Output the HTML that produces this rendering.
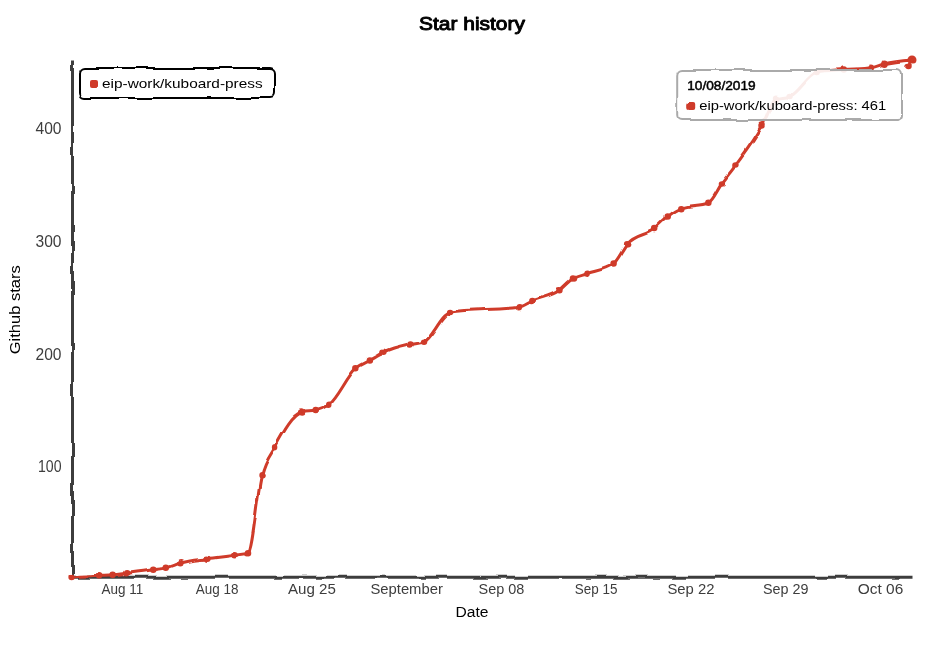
<!DOCTYPE html>
<html><head><meta charset="utf-8"><title>Star history</title>
<style>
html,body{margin:0;padding:0;background:#fff;overflow:hidden;color:#3d3d3d}
body{width:935px;height:647px;position:relative}
svg.xk{position:absolute;left:2.0px;top:0;stroke-width:3;font-family:"Liberation Sans", sans-serif;background:white;overflow:hidden}
.tick text{font-family:"Liberation Sans", sans-serif;font-size:15.3px;fill:currentColor;stroke:none}
.tick text.yt{font-size:16.3px}
.domain{stroke:currentColor;fill:none}
.dots circle{stroke:#cf3a29;fill:#cf3a29}
.lbl{font-size:15.4px;fill:#000}
.it{font-size:13.4px;fill:#000}
.b{stroke:#000;stroke-width:.5px;stroke-linejoin:round}
</style></head><body>
<svg class="xk" width="940" height="626.667">
<g transform="translate(70,60)"><g pointer-events="all">
<g transform="translate(0,516.67)" fill="none" font-size="10" text-anchor="middle"><path class="domain" d="M0.5,0.5H840.5" filter="url(#xkcdify)"/><g class="tick" transform="translate(50.3,0)"><text y="6.7" dy="0.71em" textLength="41.68" lengthAdjust="spacingAndGlyphs">Aug 11</text></g><g class="tick" transform="translate(145.08,0)"><text y="6.7" dy="0.71em" textLength="42.66" lengthAdjust="spacingAndGlyphs">Aug 18</text></g><g class="tick" transform="translate(239.86,0)"><text y="6.7" dy="0.71em" textLength="47.9" lengthAdjust="spacingAndGlyphs">Aug 25</text></g><g class="tick" transform="translate(334.64,0)"><text y="6.7" dy="0.71em" textLength="72.5" lengthAdjust="spacingAndGlyphs">September</text></g><g class="tick" transform="translate(429.42,0)"><text y="6.7" dy="0.71em" textLength="45.8" lengthAdjust="spacingAndGlyphs">Sep 08</text></g><g class="tick" transform="translate(524.2,0)"><text y="6.7" dy="0.71em" textLength="42.66" lengthAdjust="spacingAndGlyphs">Sep 15</text></g><g class="tick" transform="translate(618.98,0)"><text y="6.7" dy="0.71em" textLength="47" lengthAdjust="spacingAndGlyphs">Sep 22</text></g><g class="tick" transform="translate(713.76,0)"><text y="6.7" dy="0.71em" textLength="45.5" lengthAdjust="spacingAndGlyphs">Sep 29</text></g><g class="tick" transform="translate(808.54,0)"><text y="6.7" dy="0.71em" textLength="45.5" lengthAdjust="spacingAndGlyphs">Oct 06</text></g></g>
<g fill="none" font-size="10" text-anchor="end"><path class="domain" d="M0.5,517.17V0.5" filter="url(#xkcdify)"/><g class="tick" transform="translate(0,406.7)"><line x2="-1" stroke="currentColor"/><text class="yt" x="-10.5" dy="0.32em" textLength="23.5" lengthAdjust="spacingAndGlyphs">100</text></g><g class="tick" transform="translate(0,294.8)"><line x2="-1" stroke="currentColor"/><text class="yt" x="-10.5" dy="0.32em" textLength="26" lengthAdjust="spacingAndGlyphs">200</text></g><g class="tick" transform="translate(0,181.8)"><line x2="-1" stroke="currentColor"/><text class="yt" x="-10.5" dy="0.32em" textLength="26" lengthAdjust="spacingAndGlyphs">300</text></g><g class="tick" transform="translate(0,68.9)"><line x2="-1" stroke="currentColor"/><text class="yt" x="-10.5" dy="0.32em" textLength="26" lengthAdjust="spacingAndGlyphs">400</text></g></g>
<path class="xkcd-chart-xyline" d="M-0.4,516.97C8.76,516.38,17.92,515.8,27.08,515.37C31.59,515.15,36.11,515.16,40.62,514.8C45.13,514.45,49.65,513.78,54.16,513.23C63.19,512.14,72.21,510.91,81.24,509.7C85.75,509.09,90.26,508.94,94.78,507.85C99.29,506.77,103.8,504.47,108.32,503.18C117.34,500.61,126.37,499.96,135.4,498.65C144.42,497.33,153.45,496.61,162.48,495.29C166.99,494.63,171.5,494.58,176.02,493.16C180.53,491.73,185.04,433.89,189.56,416.24C194.07,398.6,198.58,395.64,203.09,387.27C212.12,370.52,221.15,354.41,230.17,352.46C234.69,351.49,239.2,351.98,243.71,351.01C248.23,350.04,252.74,348.11,257.25,344.68C266.28,337.81,275.31,315.66,284.33,308.2C288.85,304.47,293.36,303.11,297.87,300.55C302.39,297.98,306.9,295.01,311.41,292.83C320.44,288.48,329.46,286.65,338.49,284.53C343,283.48,347.52,283.64,352.03,281.84C361.06,278.25,370.08,253.25,379.11,251.99C401.68,248.82,424.24,250.4,446.81,247.24C451.32,246.61,455.83,243.03,460.35,241.05C469.37,237.11,478.4,236.73,487.43,230.28C491.94,227.05,496.45,221.22,500.97,218.46C505.48,215.7,509.99,215.34,514.51,213.73C523.53,210.5,532.56,210.36,541.59,203.62C546.1,200.25,550.61,189.21,555.13,184.14C564.15,173.99,573.18,176.09,582.21,168.91C586.72,165.32,591.23,160.02,595.74,156.57C600.26,153.11,604.77,150,609.28,148.2C618.31,144.6,627.34,146.4,636.36,142.8C640.88,141,645.39,129.7,649.9,123.5C654.42,117.3,658.93,111.82,663.44,105.61C672.47,93.2,681.5,81.79,690.52,65.49C695.04,57.34,699.55,40.72,704.06,38.85C708.58,36.97,713.09,37.91,717.6,36.03C726.63,32.28,735.65,13.59,744.68,11.98C753.71,10.38,762.73,10.26,771.76,9.57C780.79,8.88,789.81,9,798.84,7.86C803.35,7.29,807.87,4.93,812.38,3.82C821.59,1.56,830.79,0.78,840,0L835.5,7.1" fill="none" stroke="#cf3a29" filter="url(#xkcdify)"/>
<g class="dots" filter="url(#xkcdify)"><circle r="1.75" cx="-0.4" cy="516.97"/><circle r="1.75" cx="27.08" cy="515.37"/><circle r="1.75" cx="40.62" cy="514.8"/><circle r="1.75" cx="54.16" cy="513.23"/><circle r="1.75" cx="81.24" cy="509.7"/><circle r="1.75" cx="94.78" cy="507.85"/><circle r="1.75" cx="108.32" cy="503.18"/><circle r="1.75" cx="135.4" cy="498.65"/><circle r="1.75" cx="162.48" cy="495.29"/><circle r="1.75" cx="176.02" cy="493.16"/><circle r="1.75" cx="189.56" cy="416.24"/><circle r="1.75" cx="203.09" cy="387.27"/><circle r="1.75" cx="230.17" cy="352.46"/><circle r="1.75" cx="243.71" cy="351.01"/><circle r="1.75" cx="257.25" cy="344.68"/><circle r="1.75" cx="284.33" cy="308.2"/><circle r="1.75" cx="297.87" cy="300.55"/><circle r="1.75" cx="311.41" cy="292.83"/><circle r="1.75" cx="338.49" cy="284.53"/><circle r="1.75" cx="352.03" cy="281.84"/><circle r="1.75" cx="379.11" cy="251.99"/><circle r="1.75" cx="446.81" cy="247.24"/><circle r="1.75" cx="460.35" cy="241.05"/><circle r="1.75" cx="487.43" cy="230.28"/><circle r="1.75" cx="500.97" cy="218.46"/><circle r="1.75" cx="514.51" cy="213.73"/><circle r="1.75" cx="541.59" cy="203.62"/><circle r="1.75" cx="555.13" cy="184.14"/><circle r="1.75" cx="582.21" cy="168.91"/><circle r="1.75" cx="595.74" cy="156.57"/><circle r="1.75" cx="609.28" cy="148.2"/><circle r="1.75" cx="636.36" cy="142.8"/><circle r="1.75" cx="649.9" cy="123.5"/><circle r="1.75" cx="663.44" cy="105.61"/><circle r="1.75" cx="690.52" cy="65.49"/><circle r="1.75" cx="704.06" cy="38.85"/><circle r="1.75" cx="717.6" cy="36.03"/><circle r="1.75" cx="744.68" cy="11.98"/><circle r="1.75" cx="771.76" cy="9.57"/><circle r="1.75" cx="798.84" cy="7.86"/><circle r="1.75" cx="812.38" cy="3.82"/><circle r="3" cx="840" cy="0"/><circle r="1.75" cx="835.5" cy="7.1"/></g>
<svg x="3" y="3">
<rect style="fill:white" fill-opacity="0.85" stroke="black" stroke-width="2" rx="5" ry="5" filter="url(#xkcdify)" width="195" height="30" x="5" y="5"/>
<rect style="fill:#cf3a29" width="8" height="8" rx="2" ry="2" filter="url(#xkcdify)" x="15" y="17"/>
<text class="it" x="27" y="24.5" textLength="160.6" lengthAdjust="spacingAndGlyphs">eip-work/kuboard-press</text>
</svg>
</g></g>
<filter id="xkcdify" filterUnits="userSpaceOnUse" x="-5" y="-5" width="100%" height="100%"><feTurbulence type="fractalNoise" baseFrequency="0.05" result="noise"/><feDisplacementMap scale="5" xChannelSelector="R" yChannelSelector="G" in="SourceGraphic" in2="noise"/></filter>
<text class="b" style="font-size:18.7px;stroke-width:.95px" x="50%" y="30" text-anchor="middle" textLength="106" lengthAdjust="spacingAndGlyphs">Star history</text>
<text class="lbl" x="50%" y="616.67" text-anchor="middle" textLength="33" lengthAdjust="spacingAndGlyphs">Date</text>
<text class="lbl" text-anchor="end" dy=".75em" transform="rotate(-90)" y="6" x="-265.3" textLength="89" lengthAdjust="spacingAndGlyphs">Github stars</text>
<svg x="670.2" y="65">
<rect style="fill:white" fill-opacity="0.9" stroke="#aaa" stroke-width="2" rx="5" ry="5" filter="url(#xkcdify)" width="224.8" height="50" x="5" y="5"/>
<text class="it b" x="15" y="25" textLength="68.5" lengthAdjust="spacingAndGlyphs">10/08/2019</text>
<svg><rect style="fill:#cf3a29" width="8" height="8" rx="2" ry="2" filter="url(#xkcdify)" x="15" y="37"/>
<text class="it" x="27" y="44.5" textLength="187" lengthAdjust="spacingAndGlyphs">eip-work/kuboard-press: 461</text></svg>
</svg>
</svg>
</body></html>
